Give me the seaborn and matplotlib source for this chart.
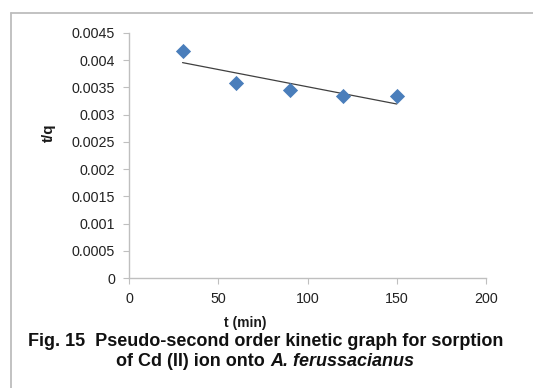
import numpy as np
import pandas as pd
import matplotlib
matplotlib.use("Agg")
import matplotlib.pyplot as plt
import seaborn as sns
from matplotlib.lines import Line2D

t_min = [30, 60, 90, 120, 150]
t_over_q = [0.00417, 0.00358, 0.00345, 0.00334, 0.00334]
x_ticks = [0, 50, 100, 150, 200]
y_ticks = [0, 0.0005, 0.001, 0.0015, 0.002, 0.0025, 0.003, 0.0035, 0.004, 0.0045]
y_tick_labels = ["0", "0.0005", "0.001", "0.0015", "0.002", "0.0025", "0.003", "0.0035", "0.004", "0.0045"]

sns.set_theme(style="white")
plt.rcParams['font.family'] = ['Liberation Sans', 'DejaVu Sans']

df = pd.DataFrame({"t": t_min, "tq": t_over_q})
slope, intercept = np.polyfit(df["t"], df["tq"], 1)
trend = pd.DataFrame({"t": [t_min[0], t_min[-1]]})
trend["tq"] = slope * trend["t"] + intercept

W, H = 533, 388
fig = plt.figure(figsize=(W / 100, H / 100), dpi=100)
# outer chart frame: only top and left edges are visible in the crop
fig.lines.append(Line2D([10.5 / W, 1.0], [1 - 12.5 / H, 1 - 12.5 / H], transform=fig.transFigure,
                        color="#BDBDBD", linewidth=1.3))
fig.lines.append(Line2D([10.5 / W, 10.5 / W], [0.0, 1 - 12.5 / H], transform=fig.transFigure,
                        color="#BDBDBD", linewidth=1.3))

ax = fig.add_axes([129 / W, 1 - 278 / H, (486 - 129) / W, (278 - 33) / H])

sns.lineplot(data=trend, x="t", y="tq", ax=ax, color="#404040", linewidth=0.9)
sns.scatterplot(data=df, x="t", y="tq", ax=ax, marker="D", s=60, color="#4A7EBB",
                edgecolor="#4A7EBB", linewidth=0, zorder=3)

ax.set_xlim(0, 200)
ax.set_ylim(0, 0.0045)
ax.set_xticks(x_ticks)
ax.set_xticklabels([str(v) for v in x_ticks])
ax.set_yticks(y_ticks)
ax.set_yticklabels(y_tick_labels)
for s in ["top", "right"]:
    ax.spines[s].set_visible(False)
for s in ["left", "bottom"]:
    ax.spines[s].set_color("#BFBFBF")
    ax.spines[s].set_linewidth(1.0)
ax.tick_params(axis="both", which="both", direction="out", length=4, width=0.8,
               color="#BFBFBF", labelsize=10.3, labelcolor="#222222")
ax.tick_params(axis="y", pad=6)
ax.tick_params(axis="x", pad=6)
ax.tick_params(bottom=True, left=True)
ax.set_xlabel("")
ax.set_ylabel("")

fig.text(245 / W, 1 - 323 / H, "t (min)", ha="center", va="center",
         fontsize=10, fontweight="bold", color="#1a1a1a")
fig.text(49 / W, 1 - 133 / H, "t/q", ha="center", va="center", rotation=90,
         fontsize=11, fontweight="bold", color="#1a1a1a")

cap_size = 13
fig.text(266 / W, 1 - 341 / H, "Fig. 15  Pseudo-second order kinetic graph for sorption",
         ha="center", va="center", fontsize=cap_size, fontweight="bold", color="#111111")

# second caption line: bold + bold italic, centred as a whole
renderer = fig.canvas.get_renderer()
part1 = fig.text(0, 1 - 362 / H, "of Cd (II) ion onto ", ha="left", va="center",
                 fontsize=cap_size, fontweight="bold", color="#111111")
part2 = fig.text(0, 1 - 362 / H, "A. ferussacianus", ha="left", va="center",
                 fontsize=cap_size, fontweight="bold", fontstyle="italic", color="#111111")
w1 = part1.get_window_extent(renderer).width
w2 = part2.get_window_extent(renderer).width
x0 = 265 - (w1 + w2) / 2
part1.set_x(x0 / W)
part2.set_x((x0 + w1) / W)

fig.savefig("out.png", dpi=100)
